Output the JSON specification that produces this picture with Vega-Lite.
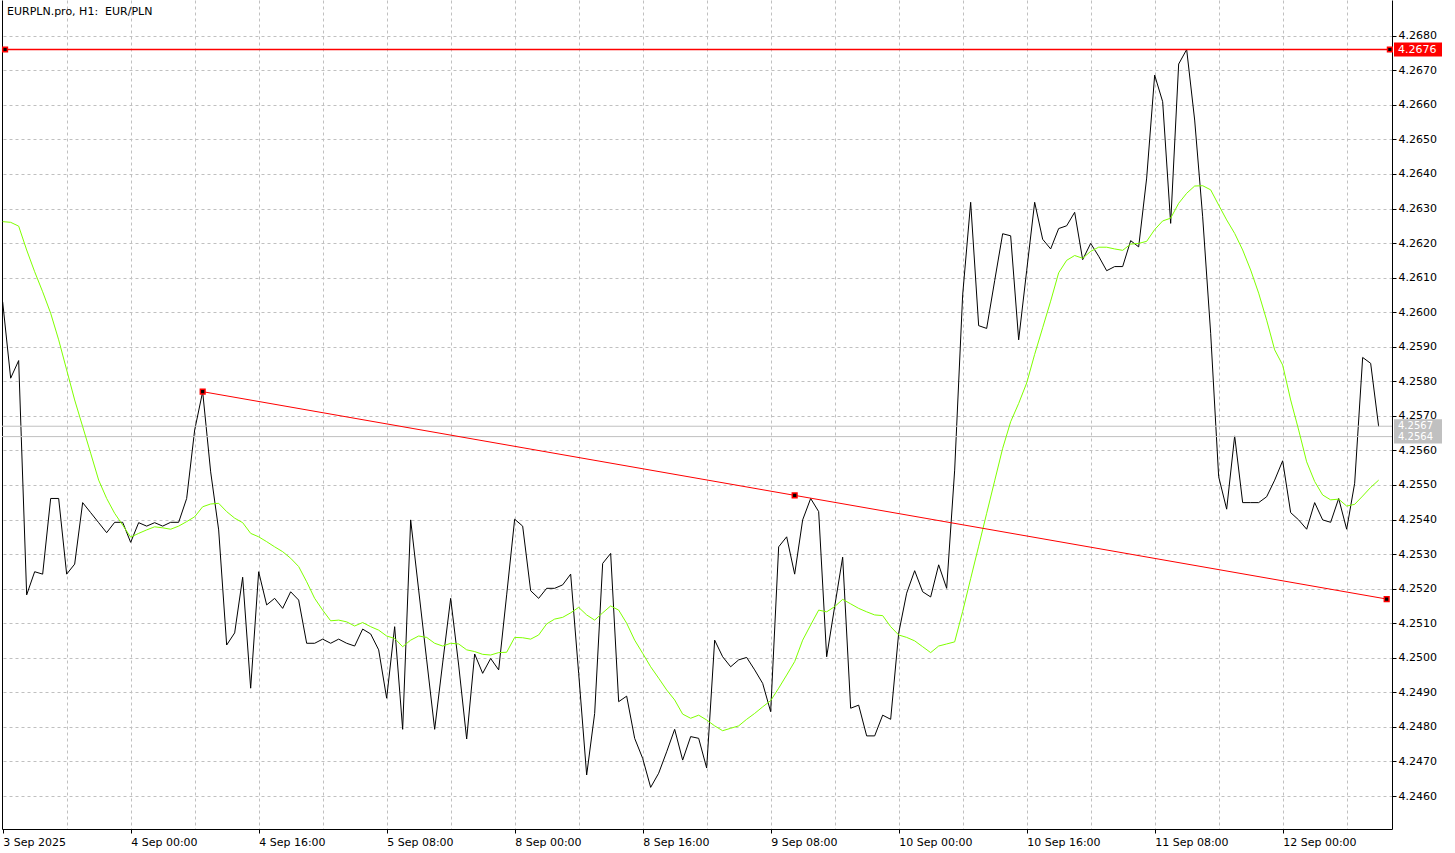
{
 "$schema": "https://vega.github.io/schema/vega-lite/v6.json",
 "width": 1390,
 "height": 829,
 "autosize": {"type": "none"},
 "padding": {"left": 2, "top": 0, "right": 63, "bottom": 24},
 "background": "white",
 "title": {"text": "EURPLN.pro, H1: \u00a0EUR/PLN", "anchor": "start", "frame": "group", "orient": "top", "offset": -15, "dx": 5, "dy": 11, "font": "DejaVu Sans", "fontSize": 11, "fontWeight": "normal", "color": "black", "baseline": "alphabetic"},
 "config": {"view": {"stroke": null}, "font": "DejaVu Sans"},
 "datasets": {
  "prices": [
   {"bar":0,"close":4.26030,"ma":4.26262},{"bar":1,"close":4.25809,"ma":4.26260},{"bar":2,"close":4.25860,"ma":4.26249},{"bar":3,"close":4.25182,"ma":4.26180},{"bar":4,"close":4.25249,"ma":4.26117},{"bar":5,"close":4.25242,"ma":4.26059},{"bar":6,"close":4.25461,"ma":4.25997},{"bar":7,"close":4.25461,"ma":4.25920},{"bar":8,"close":4.25242,"ma":4.25833},{"bar":9,"close":4.25271,"ma":4.25746},
   {"bar":10,"close":4.25449,"ma":4.25669},{"bar":11,"close":4.25420,"ma":4.25592},{"bar":12,"close":4.25391,"ma":4.25514},{"bar":13,"close":4.25362,"ma":4.25461},{"bar":14,"close":4.25392,"ma":4.25418},{"bar":15,"close":4.25392,"ma":4.25384},{"bar":16,"close":4.25334,"ma":4.25349},{"bar":17,"close":4.25391,"ma":4.25360},{"bar":18,"close":4.25381,"ma":4.25370},{"bar":19,"close":4.25391,"ma":4.25379},
   {"bar":20,"close":4.25381,"ma":4.25376},{"bar":21,"close":4.25392,"ma":4.25372},{"bar":22,"close":4.25392,"ma":4.25381},{"bar":23,"close":4.25461,"ma":4.25394},{"bar":24,"close":4.25659,"ma":4.25408},{"bar":25,"close":4.25770,"ma":4.25437},{"bar":26,"close":4.25538,"ma":4.25445},{"bar":27,"close":4.25370,"ma":4.25447},{"bar":28,"close":4.25037,"ma":4.25423},{"bar":29,"close":4.25072,"ma":4.25404},
   {"bar":30,"close":4.25233,"ma":4.25391},{"bar":31,"close":4.24912,"ma":4.25360},{"bar":32,"close":4.25249,"ma":4.25350},{"bar":33,"close":4.25153,"ma":4.25336},{"bar":34,"close":4.25172,"ma":4.25321},{"bar":35,"close":4.25143,"ma":4.25307},{"bar":36,"close":4.25191,"ma":4.25288},{"bar":37,"close":4.25167,"ma":4.25264},{"bar":38,"close":4.25042,"ma":4.25220},{"bar":39,"close":4.25042,"ma":4.25172},
   {"bar":40,"close":4.25054,"ma":4.25138},{"bar":41,"close":4.25042,"ma":4.25107},{"bar":42,"close":4.25054,"ma":4.25109},{"bar":43,"close":4.25042,"ma":4.25104},{"bar":44,"close":4.25034,"ma":4.25092},{"bar":45,"close":4.25083,"ma":4.25102},{"bar":46,"close":4.25069,"ma":4.25090},{"bar":47,"close":4.25023,"ma":4.25080},{"bar":48,"close":4.24883,"ma":4.25063},{"bar":49,"close":4.25090,"ma":4.25056},
   {"bar":50,"close":4.24793,"ma":4.25032},{"bar":51,"close":4.25399,"ma":4.25051},{"bar":52,"close":4.25196,"ma":4.25063},{"bar":53,"close":4.24994,"ma":4.25059},{"bar":54,"close":4.24793,"ma":4.25042},{"bar":55,"close":4.24985,"ma":4.25034},{"bar":56,"close":4.25172,"ma":4.25042},{"bar":57,"close":4.24979,"ma":4.25040},{"bar":58,"close":4.24765,"ma":4.25023},{"bar":59,"close":4.25011,"ma":4.25018},
   {"bar":60,"close":4.24955,"ma":4.25010},{"bar":61,"close":4.24998,"ma":4.25008},{"bar":62,"close":4.24965,"ma":4.25015},{"bar":63,"close":4.25182,"ma":4.25016},{"bar":64,"close":4.25401,"ma":4.25059},{"bar":65,"close":4.25381,"ma":4.25058},{"bar":66,"close":4.25194,"ma":4.25054},{"bar":67,"close":4.25172,"ma":4.25066},{"bar":68,"close":4.25201,"ma":4.25098},{"bar":69,"close":4.25201,"ma":4.25112},
   {"bar":70,"close":4.25211,"ma":4.25117},{"bar":71,"close":4.25242,"ma":4.25130},{"bar":72,"close":4.24955,"ma":4.25146},{"bar":73,"close":4.24661,"ma":4.25124},{"bar":74,"close":4.24839,"ma":4.25109},{"bar":75,"close":4.25273,"ma":4.25130},{"bar":76,"close":4.25302,"ma":4.25150},{"bar":77,"close":4.24873,"ma":4.25138},{"bar":78,"close":4.24889,"ma":4.25100},{"bar":79,"close":4.24767,"ma":4.25051},
   {"bar":80,"close":4.24709,"ma":4.25013},{"bar":81,"close":4.24625,"ma":4.24974},{"bar":82,"close":4.24666,"ma":4.24941},{"bar":83,"close":4.24728,"ma":4.24907},{"bar":84,"close":4.24793,"ma":4.24878},{"bar":85,"close":4.24704,"ma":4.24837},{"bar":86,"close":4.24772,"ma":4.24825},{"bar":87,"close":4.24767,"ma":4.24834},{"bar":88,"close":4.24681,"ma":4.24820},{"bar":89,"close":4.25051,"ma":4.24803},
   {"bar":90,"close":4.25003,"ma":4.24789},{"bar":91,"close":4.24974,"ma":4.24796},{"bar":92,"close":4.24994,"ma":4.24803},{"bar":93,"close":4.25001,"ma":4.24822},{"bar":94,"close":4.24965,"ma":4.24839},{"bar":95,"close":4.24926,"ma":4.24858},{"bar":96,"close":4.24844,"ma":4.24876},{"bar":97,"close":4.25321,"ma":4.24912},{"bar":98,"close":4.25350,"ma":4.24950},{"bar":99,"close":4.25242,"ma":4.24989},
   {"bar":100,"close":4.25399,"ma":4.25051},{"bar":101,"close":4.25461,"ma":4.25095},{"bar":102,"close":4.25423,"ma":4.25138},{"bar":103,"close":4.25003,"ma":4.25133},{"bar":104,"close":4.25148,"ma":4.25148},{"bar":105,"close":4.25291,"ma":4.25169},{"bar":106,"close":4.24854,"ma":4.25156},{"bar":107,"close":4.24863,"ma":4.25143},{"bar":108,"close":4.24774,"ma":4.25133},{"bar":109,"close":4.24774,"ma":4.25124},
   {"bar":110,"close":4.24834,"ma":4.25122},{"bar":111,"close":4.24822,"ma":4.25090},{"bar":112,"close":4.25071,"ma":4.25066},{"bar":113,"close":4.25187,"ma":4.25059},{"bar":114,"close":4.25252,"ma":4.25049},{"bar":115,"close":4.25191,"ma":4.25032},{"bar":116,"close":4.25176,"ma":4.25015},{"bar":117,"close":4.25269,"ma":4.25034},{"bar":118,"close":4.25201,"ma":4.25040},{"bar":119,"close":4.25543,"ma":4.25046},
   {"bar":120,"close":4.26050,"ma":4.25134},{"bar":121,"close":4.26318,"ma":4.25229},{"bar":122,"close":4.25961,"ma":4.25323},{"bar":123,"close":4.25953,"ma":4.25418},{"bar":124,"close":4.26091,"ma":4.25512},{"bar":125,"close":4.26227,"ma":4.25606},{"bar":126,"close":4.26221,"ma":4.25683},{"bar":127,"close":4.25920,"ma":4.25736},{"bar":128,"close":4.26120,"ma":4.25795},{"bar":129,"close":4.26318,"ma":4.25878},
   {"bar":130,"close":4.26211,"ma":4.25955},{"bar":131,"close":4.26183,"ma":4.26032},{"bar":132,"close":4.26242,"ma":4.26114},{"bar":133,"close":4.26250,"ma":4.26150},{"bar":134,"close":4.26289,"ma":4.26164},{"bar":135,"close":4.26152,"ma":4.26156},{"bar":136,"close":4.26199,"ma":4.26176},{"bar":137,"close":4.26162,"ma":4.26188},{"bar":138,"close":4.26120,"ma":4.26188},{"bar":139,"close":4.26132,"ma":4.26183},
   {"bar":140,"close":4.26132,"ma":4.26179},{"bar":141,"close":4.26207,"ma":4.26197},{"bar":142,"close":4.26189,"ma":4.26199},{"bar":143,"close":4.26388,"ma":4.26205},{"bar":144,"close":4.26686,"ma":4.26239},{"bar":145,"close":4.26609,"ma":4.26264},{"bar":146,"close":4.26257,"ma":4.26272},{"bar":147,"close":4.26718,"ma":4.26315},{"bar":148,"close":4.26760,"ma":4.26344},{"bar":149,"close":4.26556,"ma":4.26365},
   {"bar":150,"close":4.26276,"ma":4.26366},{"bar":151,"close":4.25939,"ma":4.26354},{"bar":152,"close":4.25524,"ma":4.26310},{"bar":153,"close":4.25430,"ma":4.26267},{"bar":154,"close":4.25642,"ma":4.26228},{"bar":155,"close":4.25449,"ma":4.26180},{"bar":156,"close":4.25449,"ma":4.26122},{"bar":157,"close":4.25449,"ma":4.26055},{"bar":158,"close":4.25466,"ma":4.25977},{"bar":159,"close":4.25514,"ma":4.25891},
   {"bar":160,"close":4.25570,"ma":4.25847},{"bar":161,"close":4.25420,"ma":4.25746},{"bar":162,"close":4.25399,"ma":4.25659},{"bar":163,"close":4.25372,"ma":4.25567},{"bar":164,"close":4.25449,"ma":4.25510},{"bar":165,"close":4.25399,"ma":4.25471},{"bar":166,"close":4.25392,"ma":4.25457},{"bar":167,"close":4.25461,"ma":4.25459},{"bar":168,"close":4.25372,"ma":4.25439},{"bar":169,"close":4.25505,"ma":4.25444},
   {"bar":170,"close":4.25869,"ma":4.25468},{"bar":171,"close":4.25852,"ma":4.25493},{"bar":172,"close":4.25669,"ma":4.25514}
  ],
  "hline": [{"price": 4.2676, "label": "4.2676"}],
  "bidask": [{"price": 4.2567, "label": "4.2567"}, {"price": 4.2564, "label": "4.2564"}],
  "trend": [{"bar": 25, "price": 4.2577}, {"bar": 173, "price": 4.2517}],
  "handles": [{"bar": 25, "price": 4.2577}, {"bar": 99, "price": 4.2547}, {"bar": 173, "price": 4.2517}, {"bar": 0.3, "price": 4.2676}, {"bar": 173.4, "price": 4.2676}]
 },
 "layer": [
  {
   "data": {"name": "prices"},
   "mark": {"type": "line", "color": "#000000", "strokeWidth": 1},
   "encoding": {
    "x": {"field": "bar", "type": "quantitative", "scale": {"domain": [-0.0833, 173.6667], "nice": false, "zero": false},
     "axis": {"orient": "bottom", "title": null,
      "values": [0,4,8,12,16,20,24,28,32,36,40,44,48,52,56,60,64,68,72,76,80,84,88,92,96,100,104,108,112,116,120,124,128,132,136,140,144,148,152,156,160,164,168,172],
      "grid": true, "gridColor": "#c0c0c0", "gridDash": [3, 3], "gridWidth": 1,
      "gridOpacity": {"condition": {"test": "datum.value == 0", "value": 0}, "value": 1},
      "ticks": true, "tickSize": 4, "tickColor": "#000000",
      "tickOpacity": {"condition": {"test": "datum.value % 16 == 0", "value": 1}, "value": 0},
      "domain": true, "domainColor": "#000000",
      "labelExpr": "datum.value % 16 == 0 ? ['3 Sep 2025','4 Sep 00:00','4 Sep 16:00','5 Sep 08:00','8 Sep 00:00','8 Sep 16:00','9 Sep 08:00','10 Sep 00:00','10 Sep 16:00','11 Sep 08:00','12 Sep 00:00'][datum.value / 16] : ''",
      "labelAlign": "left", "labelBaseline": "top", "labelPadding": 3, "labelFont": "DejaVu Sans", "labelFontSize": 11, "labelColor": "#000000",
      "labelOverlap": false, "labelBound": false, "labelFlush": false}},
    "y": {"field": "close", "type": "quantitative", "scale": {"domain": [4.245046, 4.269033], "nice": false, "zero": false},
     "axis": {"orient": "right", "title": null,
      "values": [4.246,4.247,4.248,4.249,4.250,4.251,4.252,4.253,4.254,4.255,4.256,4.257,4.258,4.259,4.260,4.261,4.262,4.263,4.264,4.265,4.266,4.267,4.268],
      "format": ".4f", "grid": true, "gridColor": "#c0c0c0", "gridDash": [3, 3], "gridWidth": 1,
      "ticks": true, "tickSize": 4, "tickColor": "#000000", "domain": true, "domainColor": "#000000",
      "labelFont": "DejaVu Sans", "labelFontSize": 11, "labelColor": "#000000", "labelPadding": 2,
      "labelOverlap": false, "labelBound": false, "labelFlush": false}}
   }
  },
  {
   "data": {"name": "bidask"},
   "mark": {"type": "rule", "color": "#c0c0c0", "strokeWidth": 1},
   "encoding": {
    "y": {"field": "price", "type": "quantitative", "scale": {"domain": [4.245046, 4.269033], "nice": false, "zero": false}, "axis": null}
   }
  },
  {
   "data": {"name": "prices"},
   "mark": {"type": "line", "color": "#7FFF00", "strokeWidth": 1},
   "encoding": {
    "x": {"field": "bar", "type": "quantitative", "scale": {"domain": [-0.0833, 173.6667], "nice": false, "zero": false}},
    "y": {"field": "ma", "type": "quantitative", "scale": {"domain": [4.245046, 4.269033], "nice": false, "zero": false},
     "axis": {"orient": "left", "title": null, "labels": false, "ticks": false, "grid": false, "domain": true, "domainColor": "#000000", "domainWidth": 1}}
   }
  },
  {
   "data": {"name": "trend"},
   "mark": {"type": "line", "color": "#ff0000", "strokeWidth": 1},
   "encoding": {
    "x": {"field": "bar", "type": "quantitative", "scale": {"domain": [-0.0833, 173.6667], "nice": false, "zero": false}},
    "y": {"field": "price", "type": "quantitative", "scale": {"domain": [4.245046, 4.269033], "nice": false, "zero": false}, "axis": null}
   }
  },
  {
   "data": {"name": "bidask"},
   "mark": {"type": "rect", "color": "#c0c0c0", "xOffset": 2, "x2Offset": 50, "yOffset": -7, "y2Offset": 7},
   "encoding": {
    "x": {"datum": 173.6667, "type": "quantitative", "scale": {"domain": [-0.0833, 173.6667], "nice": false, "zero": false}},
    "x2": {"datum": 173.6667},
    "y": {"field": "price", "type": "quantitative", "scale": {"domain": [4.245046, 4.269033], "nice": false, "zero": false}, "axis": null},
    "y2": {"field": "price"}
   }
  },
  {
   "data": {"name": "hline"},
   "mark": {"type": "rect", "color": "#ff0000", "xOffset": 2, "x2Offset": 50, "yOffset": -7, "y2Offset": 7},
   "encoding": {
    "x": {"datum": 173.6667, "type": "quantitative", "scale": {"domain": [-0.0833, 173.6667], "nice": false, "zero": false}},
    "x2": {"datum": 173.6667},
    "y": {"field": "price", "type": "quantitative", "scale": {"domain": [4.245046, 4.269033], "nice": false, "zero": false}, "axis": null},
    "y2": {"field": "price"}
   }
  },
  {
   "data": {"name": "bidask"},
   "mark": {"type": "text", "align": "left", "baseline": "middle", "dx": 6, "color": "#ffffff", "font": "DejaVu Sans", "fontSize": 10},
   "encoding": {
    "x": {"datum": 173.6667, "type": "quantitative", "scale": {"domain": [-0.0833, 173.6667], "nice": false, "zero": false}},
    "y": {"field": "price", "type": "quantitative", "scale": {"domain": [4.245046, 4.269033], "nice": false, "zero": false}, "axis": null},
    "text": {"field": "label"}
   }
  },
  {
   "data": {"name": "hline"},
   "mark": {"type": "text", "align": "left", "baseline": "middle", "dx": 6, "color": "#ffffff", "font": "DejaVu Sans", "fontSize": 11},
   "encoding": {
    "x": {"datum": 173.6667, "type": "quantitative", "scale": {"domain": [-0.0833, 173.6667], "nice": false, "zero": false}},
    "y": {"field": "price", "type": "quantitative", "scale": {"domain": [4.245046, 4.269033], "nice": false, "zero": false}, "axis": null},
    "text": {"field": "label"}
   }
  },
  {
   "data": {"name": "hline"},
   "mark": {"type": "rule", "stroke": "#ff0000", "color": "#ff0000", "strokeWidth": 1.4, "opacity": 1},
   "encoding": {
    "x": {"datum": 0.3, "type": "quantitative", "scale": {"domain": [-0.0833, 173.6667], "nice": false, "zero": false}},
    "x2": {"datum": 173.4},
    "y": {"field": "price", "type": "quantitative", "scale": {"domain": [4.245046, 4.269033], "nice": false, "zero": false}, "axis": null}
   }
  },
  {
   "data": {"name": "handles"},
   "mark": {"type": "point", "shape": "square", "filled": true, "fill": "#000000", "stroke": "#ff0000", "strokeWidth": 1.5, "size": 22, "opacity": 1},
   "encoding": {
    "x": {"field": "bar", "type": "quantitative", "scale": {"domain": [-0.0833, 173.6667], "nice": false, "zero": false}},
    "y": {"field": "price", "type": "quantitative", "scale": {"domain": [4.245046, 4.269033], "nice": false, "zero": false}, "axis": null}
   }
  }
 ],
 "resolve": {"axis": {"y": "independent"}}
}
